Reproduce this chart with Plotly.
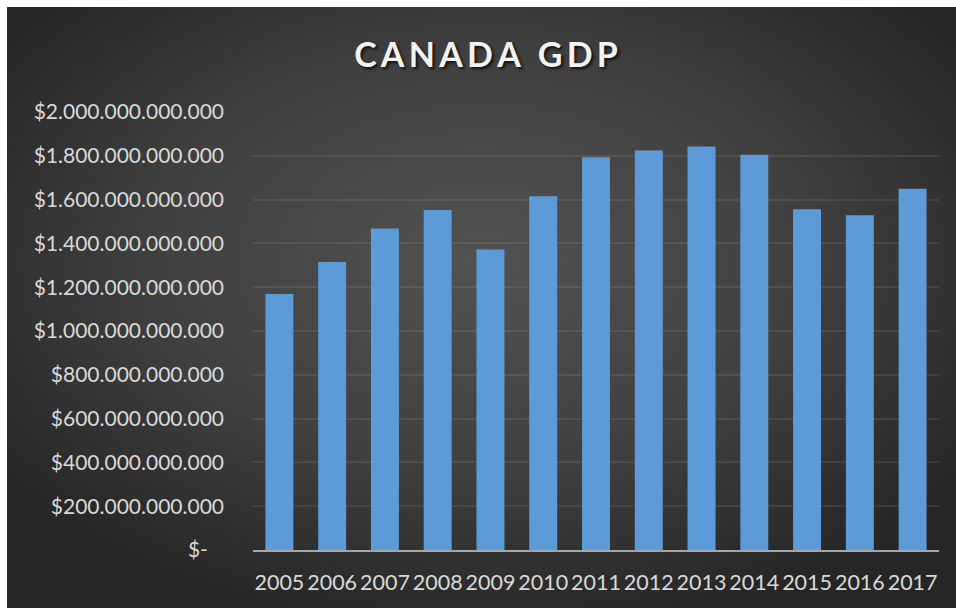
import base64
import plotly.graph_objects as go

# Canada GDP in current US dollars, by year
years = ["2005", "2006", "2007", "2008", "2009", "2010", "2011",
         "2012", "2013", "2014", "2015", "2016", "2017"]
gdp_usd = [1.169e12, 1.315e12, 1.468e12, 1.552e12, 1.372e12, 1.615e12, 1.793e12,
           1.824e12, 1.843e12, 1.805e12, 1.556e12, 1.528e12, 1.650e12]

# Value axis ticks (accounting-style labels)
tick_values = [0, 2e11, 4e11, 6e11, 8e11, 1e12, 1.2e12, 1.4e12, 1.6e12, 1.8e12, 2e12]


def money_label(v):
    if v == 0:
        return "$-\u00a0\u00a0\u00a0"
    return "$" + f"{int(v):,}".replace(",", ".")


tick_text = [money_label(v) for v in tick_values]

W, H = 956, 608
M_L, M_R, M_T, M_B = 253, 17, 112, 58
plot_w = W - M_L - M_R
plot_h = H - M_T - M_B

# Dark radial-gradient card behind the whole chart
bg_svg = """<svg xmlns='http://www.w3.org/2000/svg' width='949' height='601' viewBox='0 0 949 601' preserveAspectRatio='none'>
<defs><radialGradient id='g' cx='0.5' cy='0.42' r='0.62' fx='0.5' fy='0.42'>
<stop offset='0' stop-color='#525252'/>
<stop offset='0.55' stop-color='#404040'/>
<stop offset='1' stop-color='#262626'/>
</radialGradient></defs>
<rect width='949' height='601' fill='url(#g)'/></svg>"""
bg_uri = "data:image/svg+xml;base64," + base64.b64encode(bg_svg.encode()).decode()

card_x0, card_y0, card_x1, card_y1 = 7, 7, 956, 608
px = lambda x: (x - M_L) / plot_w
py = lambda y: (H - M_B - y) / plot_h

fig = go.Figure()
fig.add_trace(go.Bar(
    x=years,
    y=gdp_usd,
    marker=dict(color="#5c9bd7", line=dict(width=0)),
    hoverinfo="x+y",
))

fig.update_layout(
    width=W,
    height=H,
    margin=dict(l=M_L, r=M_R, t=M_T, b=M_B, pad=0),
    paper_bgcolor="white",
    plot_bgcolor="rgba(0,0,0,0)",
    bargap=0.47,
    showlegend=False,
    title=dict(
        text="C\u2009A\u2009N\u2009A\u2009D\u2009A\u2002G\u2009D\u2009P",
        x=486 / W,
        xref="container",
        xanchor="center",
        y=1 - 55 / H,
        yref="container",
        yanchor="middle",
        font=dict(family="Lato", size=34, color="#f2f2f2", weight="bold",
                  shadow="2px 2px 3px rgba(0,0,0,0.75)"),
    ),
    images=[dict(
        source=bg_uri,
        xref="paper", yref="paper",
        x=px(card_x0), y=py(card_y0),
        sizex=px(card_x1) - px(card_x0),
        sizey=py(card_y0) - py(card_y1),
        xanchor="left", yanchor="top",
        sizing="stretch",
        layer="below",
    )],
    xaxis=dict(
        type="category",
        automargin=False,
        showgrid=False,
        showline=True,
        linecolor="#a6a6a6",
        linewidth=2,
        ticks="",
        tickangle=0,
        tickfont=dict(family="Lato", size=21.5, color="#d9d9d9"),
        ticklabelstandoff=12,
        fixedrange=True,
    ),
    yaxis=dict(
        automargin=False,
        range=[0, 2e12],
        tickvals=tick_values,
        ticktext=tick_text,
        showgrid=True,
        gridcolor="rgba(255,255,255,0.08)",
        gridwidth=2,
        zeroline=False,
        showline=False,
        ticks="",
        tickfont=dict(family="Lato", size=21, color="#d9d9d9"),
        ticklabelstandoff=28,
        fixedrange=True,
    ),
)

fig.write_html("out.html")
